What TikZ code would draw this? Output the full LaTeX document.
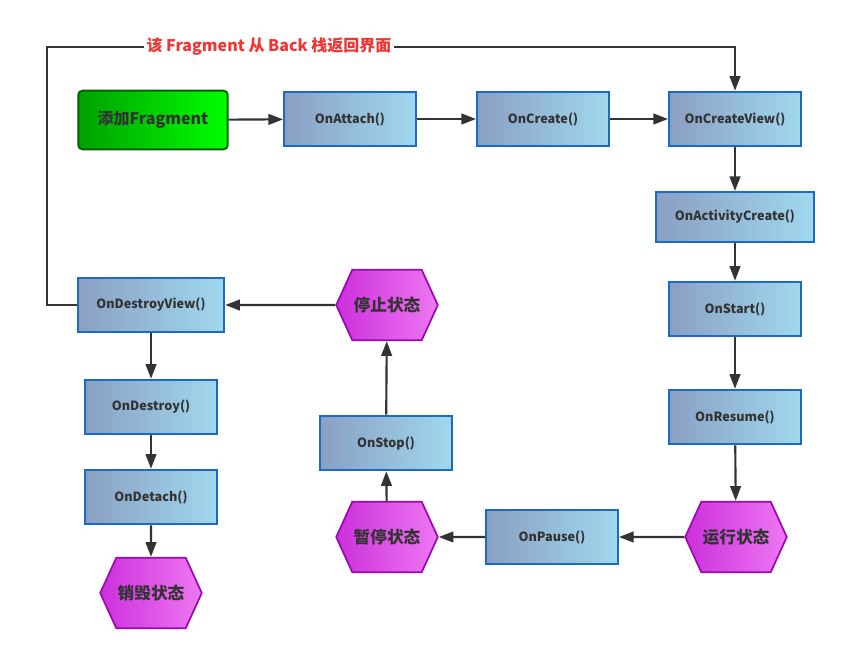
\documentclass[tikz,border=0pt]{standalone}
\usepackage{fontspec}
\setmainfont{Noto Sans CJK SC}
\usetikzlibrary{arrows.meta,positioning,shapes.symbols}
\definecolor{boxleft}{HTML}{8A9FC2}
\definecolor{boxright}{HTML}{A0D8EE}
\definecolor{boxline}{HTML}{1A6CC2}
\definecolor{greenleft}{HTML}{00A000}
\definecolor{greenright}{HTML}{00FF00}
\definecolor{greenline}{HTML}{006000}
\definecolor{hexleft}{HTML}{CC30DC}
\definecolor{hexright}{HTML}{EE78F2}
\definecolor{hexline}{HTML}{9A0AB0}
\definecolor{txt}{HTML}{333333}
\definecolor{backred}{HTML}{F03535}

\begin{document}
\begin{tikzpicture}[
    x=0.75pt, y=-0.75pt,
    method/.style={rectangle, draw=boxline, line width=1.4pt,
                   left color=boxleft, right color=boxright,
                   minimum width=99pt, minimum height=41pt,
                   font=\bfseries\fontsize{9.5}{11}\selectfont, text=txt},
    start/.style={rectangle, draw=greenline, line width=1.4pt, rounded corners=3pt,
                  left color=greenleft, right color=greenright,
                  minimum width=112pt, minimum height=44pt,
                  font=\bfseries\fontsize{12}{14}\selectfont, text=txt},
    state/.style={signal, signal to=east and west, signal pointer angle=131,
                  draw=hexline, line width=1.3pt,
                  left color=hexleft, right color=hexright,
                  minimum width=75pt, minimum height=53pt, inner sep=1pt,
                  font=\bfseries\fontsize{12.5}{14}\selectfont, text=txt},
    flow/.style={-{Triangle[length=11pt,width=8pt]}, line width=1.6pt, txt}
]
\useasboundingbox (0,0) rectangle (846,660);

% adding and creating
\node[start] (add) at (153,120) {添加Fragment};
\node[method] (attach) at (350,119) {OnAttach()};
\node[method] (create) at (543,119) {OnCreate()};
\node[method] (createview) at (735,119) {OnCreateView()};
\node[method, minimum width=118pt, minimum height=37.5pt] (activity) at (735,217) {OnActivityCreate()};
\node[method] (start) at (735,309) {OnStart()};
\node[method] (resume) at (735,417) {OnResume()};

% states and pausing
\node[state] (running) at (736,537) {运行状态};
\node[method] (pause) at (552,537) {OnPause()};
\node[state] (paused) at (387,537) {暂停状态};
\node[method] (stop) at (386,443) {OnStop()};
\node[state] (stopped) at (387,305) {停止状态};

% destroying
\node[method, minimum width=110pt] (destroyview) at (151,305) {OnDestroyView()};
\node[method] (destroy) at (151,407) {OnDestroy()};
\node[method] (detach) at (151,497) {OnDetach()};
\node[state] (destroyed) at (151,593) {销毁状态};

% connectors
\draw[flow] (add) -- (attach);
\draw[flow] (attach) -- (create);
\draw[flow] (create) -- (createview);
\draw[flow] (createview) -- (activity);
\draw[flow] (activity) -- (start);
\draw[flow] (start) -- (resume);
\draw[flow] (resume) -- (running);
\draw[flow] (running) -- (pause);
\draw[flow] (pause) -- (paused);
\draw[flow] (paused) -- (stop);
\draw[flow] (stop) -- (stopped);
\draw[flow] (stopped) -- (destroyview);
\draw[flow] (destroyview) -- (destroy);
\draw[flow] (destroy) -- (detach);
\draw[flow] (detach) -- (destroyed);

% back stack loop
\draw[flow] (destroyview.west) -- (47,305) -- (47,47) -- (735,47) -- (createview.north);
\node[fill=white, inner sep=2pt, text=backred, font=\bfseries\fontsize{12}{14}\selectfont]
    (backlabel) at (269,47) {该 Fragment 从 Back 栈返回界面};

\end{tikzpicture}
\end{document}
